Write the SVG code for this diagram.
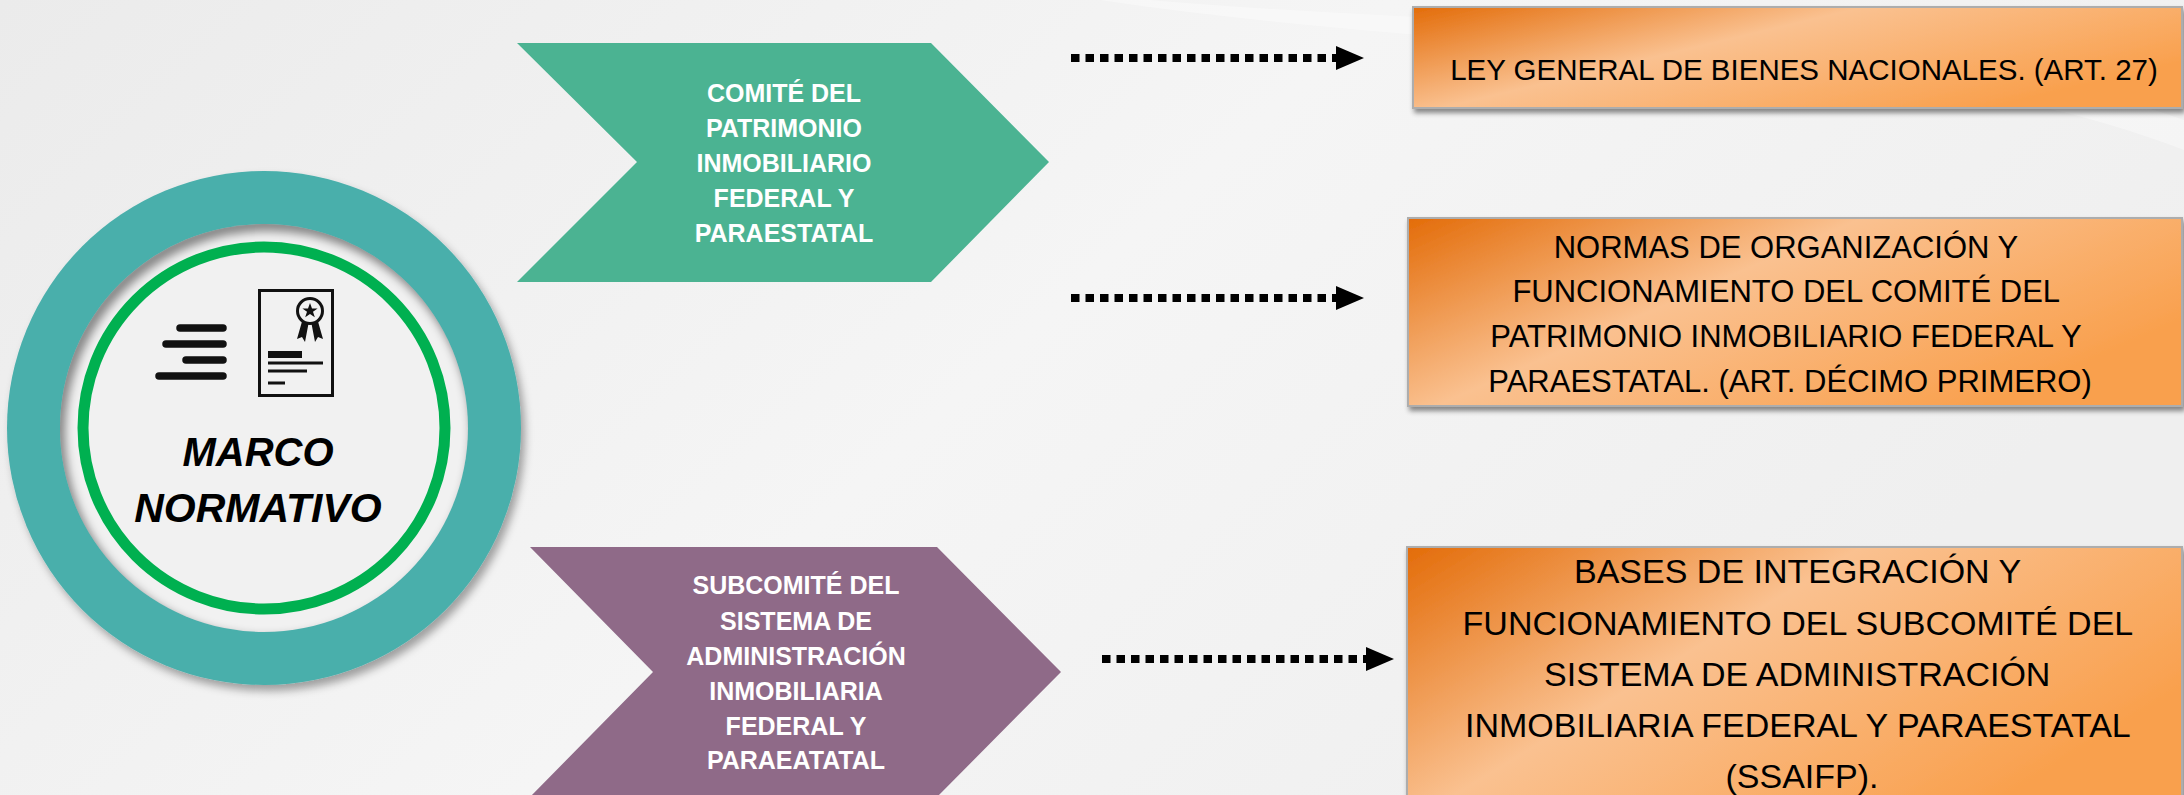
<svg xmlns="http://www.w3.org/2000/svg" width="2184" height="795" viewBox="0 0 2184 795">
<defs>
<style>
.chev{font-family:"Liberation Sans",Arial,sans-serif;font-weight:bold;font-size:25px;fill:#ffffff;text-anchor:middle}
.box{stroke:#ADADAD;stroke-width:2;fill:url(#og)}
.btxt{font-family:"Liberation Sans",Arial,sans-serif;fill:#000000;text-anchor:middle}
.conn{stroke:#000000;stroke-width:8;stroke-dasharray:8.5 6;fill:none}
.bar{stroke:#111111;stroke-width:7.5;stroke-linecap:round}
</style>
<linearGradient id="bg" x1="0" y1="0" x2="1" y2="0.4">
<stop offset="0" stop-color="#EBEBEB"/>
<stop offset="0.55" stop-color="#F5F5F5"/>
<stop offset="1" stop-color="#EFEFEF"/>
</linearGradient>
<linearGradient id="og" x1="0" y1="0" x2="1" y2="0.55">
<stop offset="0" stop-color="#E36C09"/>
<stop offset="0.45" stop-color="#FAC190"/>
<stop offset="1" stop-color="#F9A04D"/>
</linearGradient>
<filter id="sh" x="-10%" y="-10%" width="125%" height="130%">
<feDropShadow dx="4" dy="6" stdDeviation="4" flood-color="#000" flood-opacity="0.35"/>
</filter>
<filter id="bsh" x="-5%" y="-10%" width="110%" height="130%">
<feDropShadow dx="2" dy="4" stdDeviation="2.5" flood-color="#000" flood-opacity="0.45"/>
</filter>
<filter id="blur"><feGaussianBlur stdDeviation="5"/></filter>
<clipPath id="disk"><circle cx="264" cy="428" r="204"/></clipPath>
<marker id="ah" markerUnits="userSpaceOnUse" viewBox="0 0 28 24" refX="0" refY="12" markerWidth="28" markerHeight="24" orient="auto">
<path d="M0,0 L28,12 L0,24 Z" fill="#000000"/>
</marker>
</defs>

<rect x="0" y="0" width="2184" height="795" fill="url(#bg)"/>
<path d="M1100,0 C1500,60 1900,40 2184,150 L2184,120 C1900,20 1500,30 1150,0 Z" fill="#FFFFFF" opacity="0.35"/>

<g id="marco">
<circle cx="264" cy="428" r="257" fill="#4AAFAB" filter="url(#sh)"/>
<circle cx="264" cy="428" r="204" fill="#F1F1F1"/>
<g clip-path="url(#disk)">
<circle cx="268" cy="434" r="210" fill="none" stroke="#000" stroke-opacity="0.45" stroke-width="14" filter="url(#blur)"/>
</g>
<circle cx="264" cy="428" r="181" fill="none" stroke="#00B050" stroke-width="11"/>
<g id="icon-lines">
<line class="bar" x1="180" y1="328" x2="223" y2="328"/>
<line class="bar" x1="166" y1="344" x2="223" y2="344"/>
<line class="bar" x1="186" y1="360" x2="223" y2="360"/>
<line class="bar" x1="159" y1="376" x2="223" y2="376"/>
</g>
<g id="icon-cert">
<rect x="259.5" y="290.5" width="73" height="105" fill="none" stroke="#111" stroke-width="3"/>
<path d="M303,318 L297,339 L302,337 L305,342 L309,321 Z M317,318 L323,339 L318,337 L315,342 L311,321 Z" fill="#111"/>
<circle cx="310" cy="311" r="12.5" fill="#F1F1F1" stroke="#111" stroke-width="3"/>
<path d="M310,303 L312,308.5 L317.6,308.5 L313,311.8 L314.8,317.2 L310,314 L305.2,317.2 L307,311.8 L302.4,308.5 L308,308.5 Z" fill="#111"/>
<rect x="268" y="351" width="34" height="7" fill="#111"/>
<rect x="268" y="361.5" width="55" height="3" fill="#111"/>
<rect x="268" y="369.5" width="39" height="3" fill="#111"/>
<rect x="268" y="381.5" width="17" height="3" fill="#111"/>
</g>
<text x="258" y="466" font-family="'Liberation Sans',Arial,sans-serif" font-weight="bold" font-style="italic" font-size="40" text-anchor="middle" fill="#000">MARCO</text>
<text x="258" y="522" font-family="'Liberation Sans',Arial,sans-serif" font-weight="bold" font-style="italic" font-size="41" text-anchor="middle" fill="#000">NORMATIVO</text>
</g>

<g id="comite">
<polygon points="517,43 931,43 1049,162 931,282 517,282 637,162" fill="#4BB392"/>
<text class="chev" x="784" y="102">COMITÉ DEL</text>
<text class="chev" x="784" y="137">PATRIMONIO</text>
<text class="chev" x="784" y="172">INMOBILIARIO</text>
<text class="chev" x="784" y="207">FEDERAL Y</text>
<text class="chev" x="784" y="242">PARAESTATAL</text>
</g>

<g id="subcomite">
<polygon points="530,547 937,547 1061,672 937,797 530,797 653,672" fill="#8F6A88"/>
<text class="chev" x="796" y="594">SUBCOMITÉ DEL</text>
<text class="chev" x="796" y="630">SISTEMA DE</text>
<text class="chev" x="796" y="665">ADMINISTRACIÓN</text>
<text class="chev" x="796" y="700">INMOBILIARIA</text>
<text class="chev" x="796" y="735">FEDERAL Y</text>
<text class="chev" x="796" y="769">PARAEATATAL</text>
</g>

<g id="ley">
<rect class="box" x="1413" y="7" width="769" height="101" filter="url(#bsh)"/>
<text class="btxt" x="1804" y="80" font-size="29.5">LEY GENERAL DE BIENES NACIONALES. (ART. 27)</text>
</g>

<g id="normas">
<rect class="box" x="1408" y="218" width="774" height="188" filter="url(#bsh)"/>
<text class="btxt" font-size="31">
<tspan x="1790" y="258">NORMAS DE ORGANIZACIÓN Y</tspan>
<tspan x="1790" y="302">FUNCIONAMIENTO DEL COMITÉ DEL</tspan>
<tspan x="1790" y="347">PATRIMONIO INMOBILIARIO FEDERAL Y</tspan>
<tspan x="1790" y="392">PARAESTATAL. (ART. DÉCIMO PRIMERO)</tspan>
</text>
</g>

<g id="bases">
<rect class="box" x="1407" y="547" width="775" height="260" filter="url(#bsh)"/>
<text class="btxt" font-size="34">
<tspan x="1802" y="583">BASES DE INTEGRACIÓN Y</tspan>
<tspan x="1802" y="635">FUNCIONAMIENTO DEL SUBCOMITÉ DEL</tspan>
<tspan x="1802" y="686">SISTEMA DE ADMINISTRACIÓN</tspan>
<tspan x="1802" y="737">INMOBILIARIA FEDERAL Y PARAESTATAL</tspan>
<tspan x="1802" y="788">(SSAIFP).</tspan>
</text>
</g>

<g id="connectors">
<line class="conn" x1="1071" y1="58" x2="1336" y2="58" marker-end="url(#ah)"/>
<line class="conn" x1="1071" y1="298" x2="1336" y2="298" marker-end="url(#ah)"/>
<line class="conn" x1="1102" y1="659" x2="1366" y2="659" marker-end="url(#ah)"/>
</g>
</svg>
